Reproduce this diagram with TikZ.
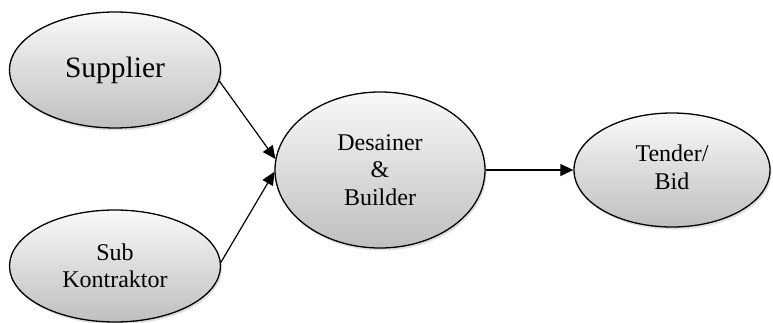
\documentclass[tikz,border=0pt]{standalone}
\usepackage{fontspec}
\setmainfont{Liberation Serif}
\usetikzlibrary{shapes.geometric,arrows.meta,shadows}
\begin{document}
\begin{tikzpicture}[x=1pt,y=-1pt,
  blob/.style={ellipse, draw=black, line width=1.3pt, inner sep=0pt,
    top color=gray!5, bottom color=gray!50, align=center,
    font=\fontsize{24}{27.5}\selectfont,
    drop shadow={opacity=0.25, shadow xshift=1.5pt, shadow yshift=-2.5pt}},
  link/.style={line width=1.2pt, -{Triangle[length=13pt,width=12pt]}}]
\useasboundingbox (0,0) rectangle (773,323);
\node[blob, minimum width=211pt, minimum height=116pt] (sup) at (115,70)
  {\fontsize{29.5}{33}\selectfont\raisebox{5pt}{Supplier}};
\node[blob, minimum width=211pt, minimum height=112pt] (sub) at (115,266)
  {Sub\\Kontraktor};
\node[blob, minimum width=210pt, minimum height=156pt] (des) at (380,170)
  {Desainer\\\&\\Builder};
\node[blob, minimum width=196pt, minimum height=114pt] (ten) at (672,170)
  {\raisebox{3pt}{\begin{tabular}{@{}c@{}}Tender/\\Bid\end{tabular}}};
\draw[link] (sup.-6) -- (des.174);
\draw[link] (sub.2) -- (des.181);
\draw[link] (des.east) -- (ten.west);
\end{tikzpicture}
\end{document}
